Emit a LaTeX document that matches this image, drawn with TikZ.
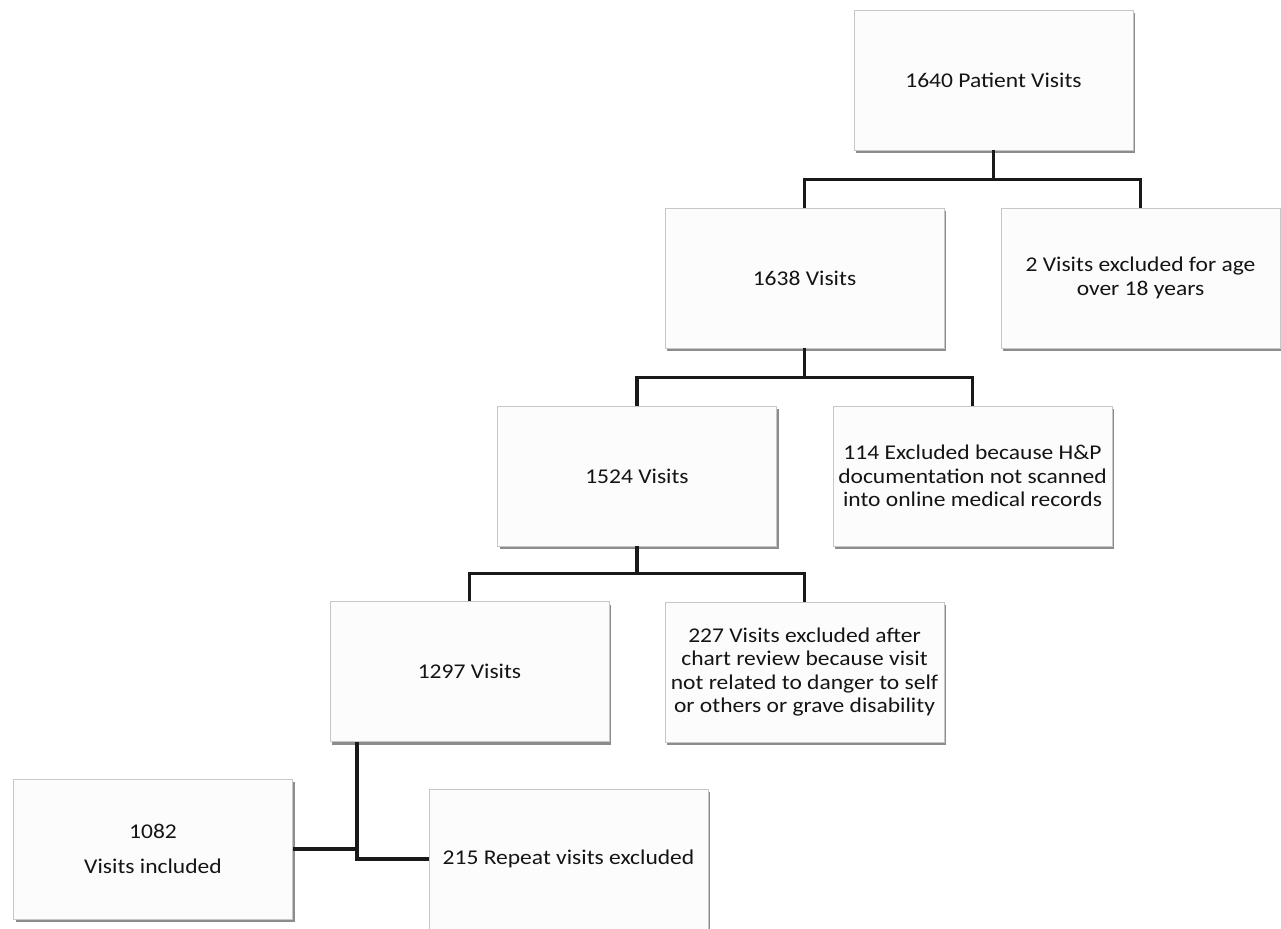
\documentclass[tikz,border=0pt]{standalone}
\usepackage{fontspec}
\setmainfont{Carlito}[FakeStretch=1.12]
\usetikzlibrary{shadows}

\begin{document}
\begin{tikzpicture}[x=1pt,y=-1pt,
  box/.style={draw=black!22, line width=.8pt, fill=black!1, text=black!92,
    minimum width=279pt, minimum height=140pt, inner sep=0pt, align=center,
    font=\fontsize{21}{23.3}\selectfont,
    drop shadow={fill=black!50, opacity=.9, shadow xshift=2pt, shadow yshift=-3pt}},
  link/.style={line width=3.5pt, draw=black!90}]
  \useasboundingbox (0,0) rectangle (1281,928);
  \node[box] at (993.5,80) (all) {1640 Patient Visits};
  \node[box] at (804.5,278) (v1638) {1638 Visits};
  \node[box] at (1140.5,278) (age) {2 Visits excluded for age\\over 18 years};
  \node[box] at (637,476) (v1524) {1524 Visits};
  \node[box] at (972.5,476) (hp) {114 Excluded because H\&P\\documentation not scanned\\into online medical records};
  \node[box] at (469.5,671.5) (v1297) {1297 Visits};
  \node[box] at (804.5,672) (chart) {227 Visits excluded after\\chart review because visit\\not related to danger to self\\or others or grave disability};
  \node[box] at (153,849) (incl) {1082\\[11pt]Visits included};
  \node[box] at (568.5,859) (rep) {215 Repeat visits excluded};
  \draw[link] (all.south) -- ++(0,29) coordinate (s1);
  \draw[link] (s1) -| (v1638.north);
  \draw[link] (s1) -| (age.north);
  \draw[link] (v1638.south) -- ++(0,29) coordinate (s2);
  \draw[link] (s2) -| (v1524.north);
  \draw[link] (s2) -| (hp.north);
  \draw[link] (v1524.south) -- ++(0,27) coordinate (s3);
  \draw[link] (s3) -| (v1297.north);
  \draw[link] (s3) -| (chart.north);
  \coordinate (s4) at (357,742);
  \draw[link] (s4) |- (rep.west);
  \draw[link] (incl.east) -| (s4);
\end{tikzpicture}
\end{document}
